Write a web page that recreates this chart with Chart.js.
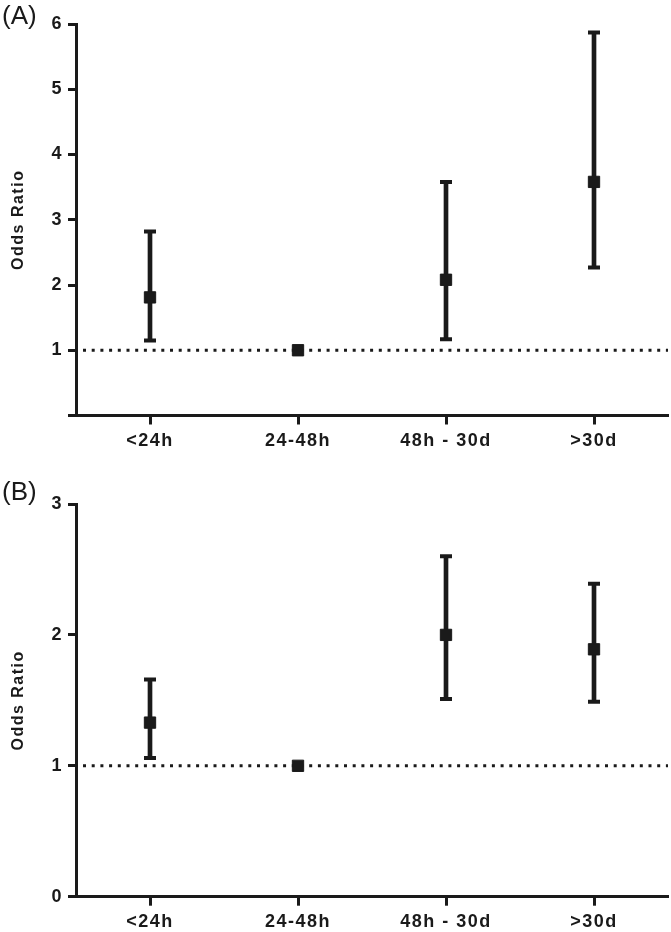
<!DOCTYPE html>
<html>
<head>
<meta charset="utf-8">
<script src="https://cdn.jsdelivr.net/npm/chart.js@4.4.1/dist/chart.umd.min.js"></script>
<style>
  body { margin: 0; background: #fff; overflow: hidden; }
  #wrap { position: relative; width: 671px; height: 932px; overflow: hidden; }
  canvas { position: absolute; left: 0; }
  .panel { position: absolute; left: 2px; font: 26px "Liberation Sans", Arial, sans-serif; color: #1a1a1a; line-height: 26px; }
</style>
</head>
<body>
<div id="wrap">
  <canvas id="chartA" width="678" height="466" style="top:0"></canvas>
  <canvas id="chartB" width="678" height="466" style="top:466px"></canvas>
  <div class="panel" style="top:2px">(A)</div>
  <div class="panel" style="top:478px">(B)</div>
</div>
<script>
// categories (time from onset)
const categories = ['<24h', '24-48h', '48h - 30d', '>30d'];

// panel A: odds ratio with 95% CI (24-48h is reference)
const oddsA = [1.81, 1.0, 2.08, 3.58];
const lowA = [1.15, null, 1.17, 2.27];
const highA = [2.82, null, 3.58, 5.87];

// panel B
const oddsB = [1.33, 1.0, 2.0, 1.89];
const lowB = [1.06, null, 1.51, 1.49];
const highB = [1.66, null, 2.60, 2.39];

const refValue = 1;
const ink = '#1a1a1a';
const fontFamily = '"Liberation Sans", Arial, Helvetica, sans-serif';

// dotted line at OR = 1 across the whole plot
const refLine = {
    id: 'refLine',
    beforeDraw(chart) {
        chart.ctx.letterSpacing = '1.5px';
    },
    beforeDatasetsDraw(chart) {
        const { ctx, chartArea } = chart;
        const y = chart.scales.y.getPixelForValue(refValue);
        ctx.save();
        ctx.strokeStyle = ink;
        ctx.lineWidth = 3;
        ctx.setLineDash([3, 5.7]);
        ctx.beginPath();
        ctx.moveTo(chartArea.left + 7, y);
        ctx.lineTo(chartArea.right, y);
        ctx.stroke();
        ctx.restore();
    }
};

function makeChart(id, odds, low, high, yMax, showZero, padTop, xHeight) {
    return new Chart(document.getElementById(id), {
        type: 'bar',
        data: {
            labels: categories,
            datasets: [
                {
                    type: 'line',
                    data: odds,
                    showLine: false,
                    pointStyle: 'rect',
                    pointRadius: 8,
                    pointBackgroundColor: ink,
                    pointBorderColor: ink,
                    pointBorderWidth: 1,
                    order: 0
                },
                {
                    type: 'line',
                    data: low,
                    showLine: false,
                    pointStyle: 'line',
                    pointRadius: 6,
                    pointBorderColor: ink,
                    pointBorderWidth: 4,
                    order: 1
                },
                {
                    type: 'line',
                    data: high,
                    showLine: false,
                    pointStyle: 'line',
                    pointRadius: 6,
                    pointBorderColor: ink,
                    pointBorderWidth: 4,
                    order: 1
                },
                {
                    // CI whiskers as floating bars
                    data: low.map((l, i) => (l === null ? null : [l, high[i]])),
                    backgroundColor: ink,
                    borderWidth: 0,
                    barThickness: 4,
                    order: 2
                }
            ]
        },
        options: {
            responsive: false,
            animation: false,
            layout: { padding: { top: padTop, right: 0, left: 0, bottom: 0 } },
            plugins: {
                legend: { display: false },
                tooltip: { enabled: false }
            },
            scales: {
                x: {
                    offset: true,
                    grid: {
                        offset: false,
                        drawOnChartArea: false,
                        tickLength: 9,
                        tickWidth: 3,
                        tickColor: ink
                    },
                    border: { color: ink, width: 3 },
                    ticks: {
                        color: ink,
                        padding: 6,
                        maxRotation: 0,
                        font: { family: fontFamily, size: 18, weight: 'bold' }
                    },
                    afterFit: (scale) => { scale.height = xHeight; }
                },
                y: {
                    min: 0,
                    max: yMax,
                    grid: {
                        drawOnChartArea: false,
                        tickLength: 8,
                        tickWidth: 3,
                        tickColor: ink
                    },
                    border: { color: ink, width: 3 },
                    ticks: {
                        stepSize: 1,
                        color: ink,
                        padding: 5,
                        font: { family: fontFamily, size: 18, weight: 'bold' },
                        callback: (v) => (v === 0 && !showZero ? '' : v)
                    },
                    title: {
                        display: true,
                        text: 'Odds Ratio',
                        color: ink,
                        padding: { top: 9, bottom: 0 },
                        font: { family: fontFamily, size: 16, weight: 'bold' }
                    },
                    afterFit: (scale) => { scale.width = 76; }
                }
            }
        },
        plugins: [refLine]
    });
}

makeChart('chartA', oddsA, lowA, highA, 6, false, 24, 50.5);
makeChart('chartB', oddsB, lowB, highB, 3, true, 38, 35.3);
</script>
</body>
</html>
